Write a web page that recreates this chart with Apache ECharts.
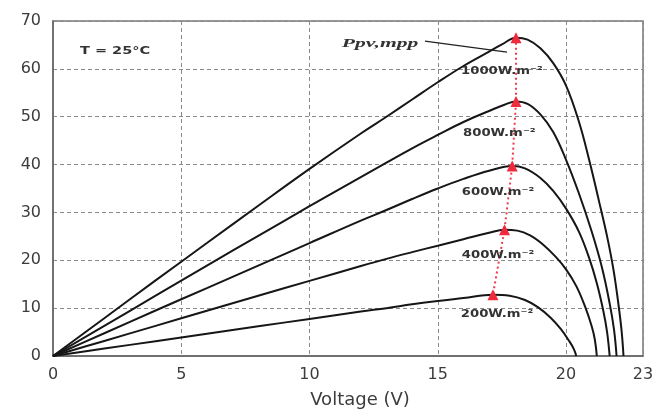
<!DOCTYPE html>
<html><head><meta charset="utf-8">
<script src="https://cdn.jsdelivr.net/npm/echarts@6/dist/echarts.min.js"></script>
<style>html,body{margin:0;padding:0;background:#fff}#c{width:659px;height:414px}</style>
</head><body><div id="c"></div>
<script>
// Axis ranges / ticks
const xMin = 0, xMax = 23, xStep = 5;
const yMin = 0, yMax = 70, yStep = 10;
const xTitle = 'Voltage (V)';

// Irradiance curves (voltage V, power W)
const curveNames = ['1000W.m⁻²', '800W.m⁻²', '600W.m⁻²', '400W.m⁻²', '200W.m⁻²'];
const v1000 = [0, 2, 4, 6, 8, 10, 12, 13, 14, 15, 16, 17, 17.5, 18.05, 18.5, 19, 19.5, 20, 20.5, 20.9, 21.3, 21.6, 21.85, 22.05, 22.17, 22.24];
const p1000 = [0, 7.9, 15.8, 23.6, 31.4, 39.1, 46.5, 50, 53.6, 57.2, 60.6, 63.6, 65.1, 66.5, 66.1, 64.3, 61.2, 56.5, 49, 41, 32, 25, 18, 10.5, 5, 0];
const v800 = [0, 2, 4, 6, 8, 10, 12, 13, 14, 15, 16, 17, 17.6, 18.05, 18.5, 19, 19.5, 20, 20.5, 21, 21.4, 21.7, 21.87, 21.97];
const p800 = [0, 6.3, 12.6, 18.9, 25.1, 31.3, 37.4, 40.4, 43.4, 46.2, 48.9, 51.2, 52.5, 53.2, 52.7, 50.5, 46.8, 41, 34, 26, 18.5, 11, 5.5, 0];
const v600 = [0, 2, 4, 6, 8, 10, 12, 13, 14, 15, 16, 17, 17.9, 18.4, 19, 19.5, 20, 20.5, 20.9, 21.2, 21.45, 21.6, 21.7];
const p600 = [0, 4.75, 9.5, 14.2, 18.9, 23.6, 28.3, 30.5, 32.8, 35, 37, 38.7, 39.7, 39.2, 37.2, 34.5, 30.8, 26, 20.5, 15.2, 9.5, 5, 0];
const v400 = [0, 2, 4, 6, 8, 10, 12, 13, 14, 15, 16, 17, 17.6, 18.1, 18.6, 19.1, 19.6, 20, 20.4, 20.75, 21, 21.12, 21.2];
const p400 = [0, 3.15, 6.3, 9.45, 12.6, 15.7, 18.8, 20.3, 21.7, 23.05, 24.4, 25.75, 26.4, 26.2, 25.2, 23.3, 20.7, 18.1, 14.6, 10.2, 6.2, 3.5, 0];
const v200 = [0, 2, 4, 6, 8, 10, 12, 13, 14, 15, 16, 17.15, 17.8, 18.4, 18.9, 19.4, 19.8, 20.1, 20.3, 20.4];
const p200 = [0, 1.55, 3.1, 4.65, 6.2, 7.75, 9.3, 10, 10.8, 11.5, 12.1, 12.8, 12.6, 11.7, 10.2, 8, 5.6, 3.3, 1.5, 0];

// Maximum power points
const mppV = [18.05, 18.05, 17.9, 17.6, 17.15];
const mppP = [66.5, 53.2, 39.7, 26.4, 12.8];

// Annotations (data coordinates)
const labelV = [17.5, 17.4, 17.35, 17.35, 17.31];
const labelP = [59.4, 46.5, 34.2, 21.0, 8.6];
const tempText = 'T = 25°C';
const tempPos = [2.42, 63.7];
const mppText = 'Ppv,mpp';
const mppTextPos = [12.75, 65.3];
const arrowFrom = [14.5, 65.8];
const arrowTo = [17.7, 63.5];

const curvesV = [v1000, v800, v600, v400, v200];
const curvesP = [p1000, p800, p600, p400, p200];

const chart = echarts.init(document.getElementById('c'), null, {renderer: 'canvas'});
const pair = (a, b) => a.map((x, i) => [x, b[i]]);

const series = curvesV.map((vs, k) => ({
  name: curveNames[k], type: 'line', data: pair(vs, curvesP[k]),
  showSymbol: false, smooth: 0.4, z: 2,
  lineStyle: {color: '#161616', width: 2}
}));
series.push({
  name: 'mpp', type: 'line', data: pair(mppV, mppP), z: 4,
  symbol: 'triangle', symbolSize: 11,
  itemStyle: {color: '#ee2a3c'},
  lineStyle: {color: '#ee3a4a', width: 2, type: [2, 3]},
  markLine: {
    silent: true, animation: false,
    symbol: ['none', 'arrow'], symbolSize: [0, 8],
    label: {show: false},
    lineStyle: {color: '#222', width: 1.2, type: 'solid'},
    data: [[{coord: arrowFrom}, {coord: arrowTo}]]
  }
});

chart.setOption({
  animation: false,
  grid: {left: 53, right: 16, top: 21, bottom: 55.5, show: true, borderColor: '#777', borderWidth: 1.5},
  xAxis: {
    type: 'value', min: xMin, max: xMax, interval: xStep,
    name: xTitle, nameLocation: 'middle', nameGap: 35,
    nameTextStyle: {fontFamily: 'DejaVu Sans', fontSize: 18, color: '#3c3c3c', padding: [0, 0, 0, 24]},
    axisLine: {show: true, lineStyle: {color: '#666', width: 1.5}},
    axisTick: {show: false},
    axisLabel: {fontFamily: 'DejaVu Sans', fontSize: 16, color: '#3c3c3c', margin: 11, showMaxLabel: true},
    splitLine: {show: true, lineStyle: {color: '#8a8a8a', width: 1, type: [4, 3]}}
  },
  yAxis: {
    type: 'value', min: yMin, max: yMax, interval: yStep,
    axisLine: {show: true, lineStyle: {color: '#666', width: 1.5}},
    axisTick: {show: false},
    axisLabel: {fontFamily: 'DejaVu Sans', fontSize: 16, color: '#3c3c3c', margin: 12},
    splitLine: {show: true, lineStyle: {color: '#8a8a8a', width: 1, type: [4, 3]}}
  },
  series: series
});

const toPx = (p) => chart.convertToPixel({gridIndex: 0}, p);
const graphics = [];
curveNames.forEach((t, k) => {
  const p = toPx([labelV[k], labelP[k]]);
  graphics.push({type: 'text', x: p[0], y: p[1], scaleX: 1.32, z: 10,
    style: {text: t, font: 'bold 10px "DejaVu Sans"', fill: '#333', align: 'center', verticalAlign: 'middle'}});
});
const tp = toPx(tempPos);
graphics.push({type: 'text', x: tp[0], y: tp[1], scaleX: 1.45, z: 10,
  style: {text: tempText, font: 'bold 10px "DejaVu Sans"', fill: '#333', align: 'center', verticalAlign: 'middle'}});
const mp = toPx(mppTextPos);
graphics.push({type: 'text', x: mp[0], y: mp[1], scaleX: 1.8, z: 10,
  style: {text: mppText, font: 'italic bold 12px "Liberation Serif"', fill: '#333', align: 'center', verticalAlign: 'middle'}});
chart.setOption({graphic: graphics});
</script></body></html>
